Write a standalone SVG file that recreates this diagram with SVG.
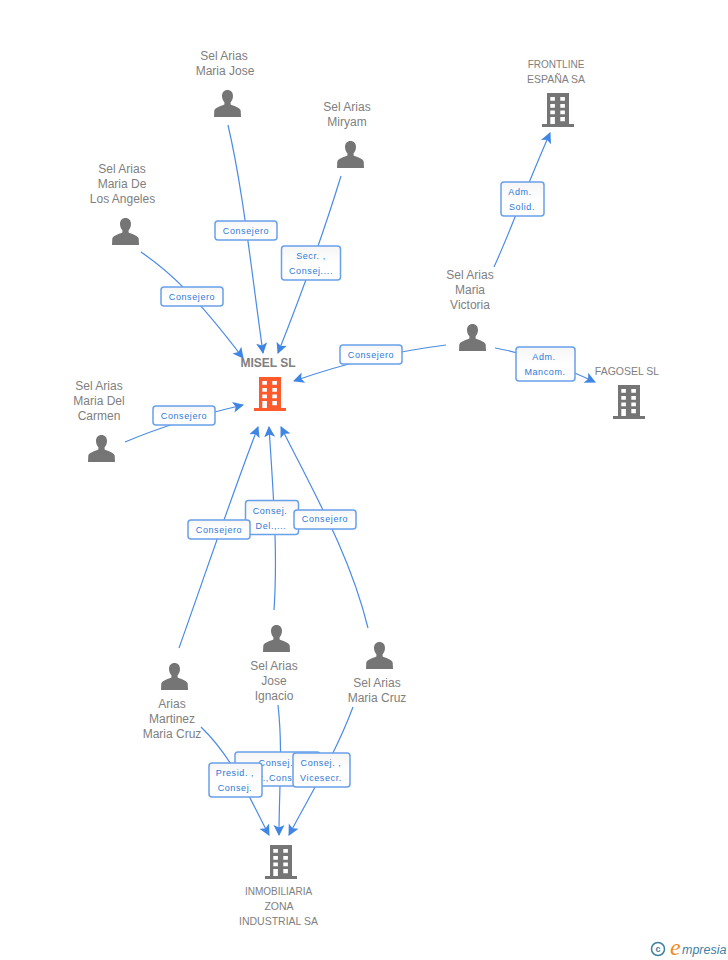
<svg xmlns="http://www.w3.org/2000/svg" width="728" height="960" viewBox="0 0 728 960">
<style>
text{font-family:"Liberation Sans",Arial,sans-serif}
.n{font-size:12px;fill:#808080;text-anchor:middle}
.c{font-size:10.5px;fill:#808080;text-anchor:middle}
.m{font-size:12px;font-weight:bold;fill:#808080;text-anchor:middle}
.l{font-size:9px;letter-spacing:.6px;fill:#2f78d8;text-anchor:middle}
.b{fill:url(#g);stroke:#69a0ea;stroke-width:1.5}
.e{fill:none;stroke:#4a8be6;stroke-width:1.2;marker-end:url(#a)}
.p{fill:#757575}
.w{fill:#fff}
</style>
<defs>
<linearGradient id="g" x1="0" y1="0" x2="0" y2="1"><stop offset="0" stop-color="#f5f5f5"/><stop offset=".5" stop-color="#fff"/></linearGradient>
<marker id="a" markerUnits="userSpaceOnUse" markerWidth="14" markerHeight="14" refX="10" refY="7" orient="auto"><path d="M0,1.500 L11,7 L0,12.500 L2.500,7Z" fill="#3f86e4"/></marker>
<symbol id="person" width="28" height="28" viewBox="0 0 28 28" overflow="visible"><path class="p" d="M13.500,0C10,0 8,2.600 8,6C8,8.600 9,10.800 10.400,12.200L10.400,14.400C8,16 1.500,16.600 .3,20.500L0,27H27L26.700,20.500C25.500,16.600 19,16 16.600,14.400L16.600,12.200C18,10.800 19,8.600 19,6C19,2.600 17,0 13.500,0Z"/></symbol>
<symbol id="bld" width="32" height="34" viewBox="0 0 32 34" overflow="visible">
<path fill="currentColor" d="M5,0H27V31H32V34H0V31H5Z"/>
<path class="w" d="M8.300,4h4.600v3.800h-4.600zM18.300,4h4.600v3.800h-4.600zM8.300,11h4.600v3.800h-4.600zM18.300,11h4.600v3.800h-4.600zM8.300,17.500h4.600v3.800h-4.600zM18.300,17.500h4.600v3.800h-4.600zM8.300,24h4.600v7h-4.600zM18.300,24h4.600v4.300h-4.600z"/></symbol>
</defs>
<g id="connectors">
<path class="e" d="M228,125C243,190 250,260 263,353"/>
<path class="e" d="M341,176C326,225 305,285 278,353"/>
<path class="e" d="M141,252C170,272 195,295 243,358"/>
<path class="e" d="M125,442C165,425 200,415 243,405"/>
<path class="e" d="M446,345C390,352 345,363 294,381"/>
<path class="e" d="M494,267C510,232 525,190 550,133"/>
<path class="e" d="M495,348C530,354 560,366 595,382"/>
<path class="e" d="M179,648C205,575 230,500 258,427"/>
<path class="e" d="M274,610C278,550 273,490 269,427"/>
<path class="e" d="M368,628C350,555 315,495 281,427"/>
<path class="e" d="M201,727C235,760 250,800 269,835"/>
<path class="e" d="M278,705C283,750 279,790 279,835"/>
<path class="e" d="M353,707C335,755 310,795 289,835"/>
</g>
<g id="misel"><text class="m" x="268" y="367">MISEL SL</text><use href="#bld" x="254" y="377" color="#ff5a2b"/></g>
<g id="frontline"><text class="c" x="556" y="68" style="font-size:10px">FRONTLINE</text><text class="c" x="556" y="83">ESPAÑA SA</text><use href="#bld" x="542" y="93" color="#757575"/></g>
<g id="fagosel"><text class="c" x="627" y="375">FAGOSEL SL</text><use href="#bld" x="613" y="385" color="#757575"/></g>
<g id="inmobiliaria"><use href="#bld" x="265" y="845" color="#757575"/><text class="c" x="278.500" y="895" style="font-size:10px">INMOBILIARIA</text><text class="c" x="279" y="910">ZONA</text><text class="c" x="278.500" y="925">INDUSTRIAL SA</text></g>
<g id="jose"><text class="n" x="224" y="60">Sel Arias</text><text class="n" x="225" y="75">Maria Jose</text><use href="#person" x="214" y="90"/></g>
<g id="miryam"><text class="n" x="347" y="111">Sel Arias</text><text class="n" x="347" y="126">Miryam</text><use href="#person" x="337" y="141"/></g>
<g id="angeles"><text class="n" x="122" y="173">Sel Arias</text><text class="n" x="122" y="188">Maria De</text><text class="n" x="122.500" y="203">Los Angeles</text><use href="#person" x="112" y="218"/></g>
<g id="victoria"><text class="n" x="470" y="279">Sel Arias</text><text class="n" x="470" y="294">Maria</text><text class="n" x="470" y="309">Victoria</text><use href="#person" x="459" y="324"/></g>
<g id="carmen"><text class="n" x="99" y="390">Sel Arias</text><text class="n" x="99" y="405">Maria Del</text><text class="n" x="99" y="420">Carmen</text><use href="#person" x="88" y="435"/></g>
<g id="ignacio"><use href="#person" x="263" y="625"/><text class="n" x="274" y="670">Sel Arias</text><text class="n" x="274" y="685">Jose</text><text class="n" x="274" y="700">Ignacio</text></g>
<g id="cruz"><use href="#person" x="366" y="642"/><text class="n" x="377" y="687">Sel Arias</text><text class="n" x="377" y="702">Maria Cruz</text></g>
<g id="martinez"><use href="#person" x="161" y="663"/><text class="n" x="172" y="708">Arias</text><text class="n" x="172" y="723">Martinez</text><text class="n" x="172" y="738">Maria Cruz</text></g>
<g id="edge-labels">
<g><rect class="b" x="215" y="221" width="62" height="19" rx="3"/><text class="l" x="246" y="234">Consejero</text></g>
<g><rect class="b" x="281.500" y="246" width="59" height="34" rx="3"/><text class="l" x="311" y="259">Secr. ,</text><text class="l" x="311" y="274">Consej....</text></g>
<g><rect class="b" x="161" y="287" width="62" height="19" rx="3"/><text class="l" x="192" y="300">Consejero</text></g>
<g><rect class="b" x="153" y="406" width="62" height="19" rx="3"/><text class="l" x="184" y="419">Consejero</text></g>
<g><rect class="b" x="340" y="345" width="62" height="19" rx="3"/><text class="l" x="371" y="358">Consejero</text></g>
<g><rect class="b" x="501" y="182" width="43" height="34" rx="3"/><text class="l" x="520" y="195">Adm.</text><text class="l" x="522" y="210">Solid.</text></g>
<g><rect class="b" x="516" y="347" width="59" height="34" rx="3"/><text class="l" x="544" y="360">Adm.</text><text class="l" x="545" y="375">Mancom.</text></g>
<g><rect class="b" x="245.500" y="500.500" width="53" height="34" rx="3"/><text class="l" x="270" y="514">Consej.</text><text class="l" x="271" y="529">Del.,...</text></g>
<g><rect class="b" x="188" y="520" width="62" height="19" rx="3"/><text class="l" x="219" y="533">Consejero</text></g>
<g><rect class="b" x="294" y="510" width="62" height="19" rx="3"/><text class="l" x="325" y="522">Consejero</text></g>
<g><rect class="b" x="235" y="752" width="85" height="34" rx="3"/><text class="l" x="279" y="766">Consej. ,</text><text class="l" x="276" y="781">r.,Cons</text></g>
<g><rect class="b" x="209" y="763" width="53" height="34" rx="3"/><text class="l" x="235" y="776">Presid. ,</text><text class="l" x="235" y="791">Consej.</text></g>
<g><rect class="b" x="293" y="753" width="57" height="34" rx="3"/><text class="l" x="321" y="766">Consej. ,</text><text class="l" x="321" y="781">Vicesecr.</text></g>
</g>
<g id="logo"><circle cx="658" cy="949" r="6.500" fill="none" stroke="#3f7f9f" stroke-width="1.500"/><text x="658" y="952" font-size="9" font-weight="bold" fill="#3f7f9f" text-anchor="middle">c</text><text x="670" y="955" font-size="24" font-style="italic" fill="#f28a1e" style="font-family:'Liberation Serif',serif">e</text><text x="682" y="954" font-size="12.500" font-style="italic" fill="#3f7f9f">mpresia</text></g>
</svg>
